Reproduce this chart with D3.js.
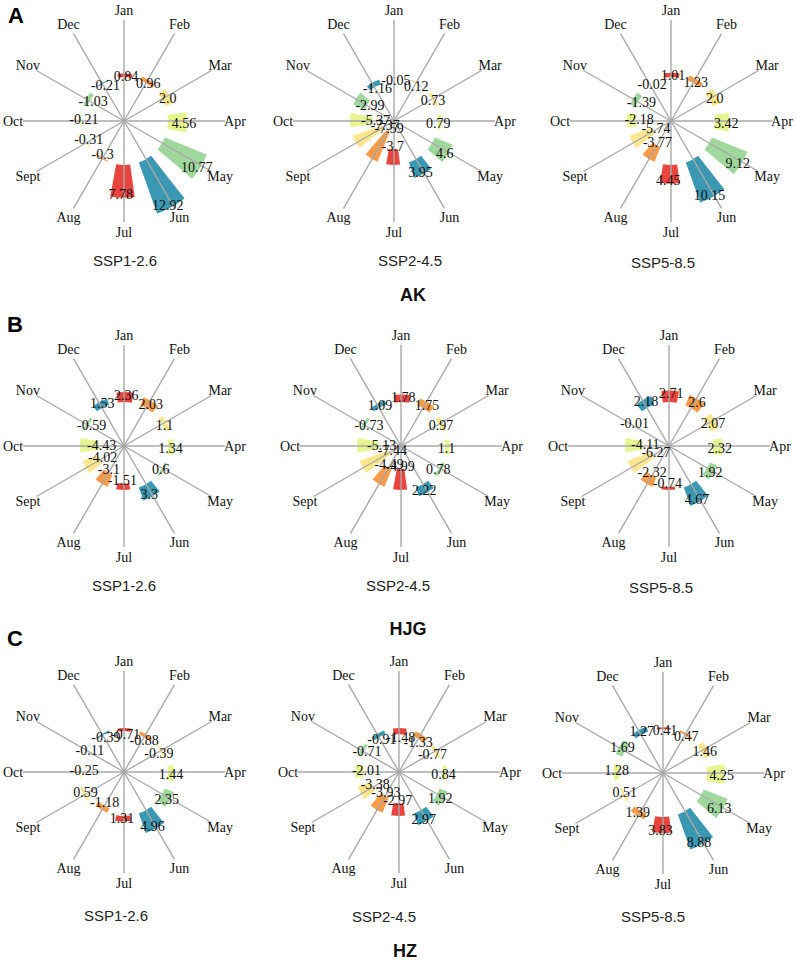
<!DOCTYPE html>
<html>

<head>
  <title>Monthly rose charts</title>
  <script src="https://cdn.jsdelivr.net/npm/d3@7/dist/d3.min.js"></script>
  <style type="text/css">
    body {
      margin: 0;
      background: #fff;
    }

    .spoke {
      stroke: #a9a9a9;
      stroke-width: 1.4;
    }

    .month,
    .value {
      font-family: "Liberation Serif", serif;
      font-size: 14px;
      fill: #111;
      text-anchor: middle;
      dominant-baseline: central;
    }

    .scenario {
      font-family: "Liberation Sans", sans-serif;
      font-size: 15px;
      fill: #222;
      text-anchor: middle;
    }

    .site {
      font-family: "Liberation Sans", sans-serif;
      font-size: 18px;
      font-weight: bold;
      fill: #111;
      text-anchor: middle;
    }

    .letter {
      font-family: "Liberation Sans", sans-serif;
      font-size: 22px;
      font-weight: bold;
      fill: #000;
    }
  </style>
</head>

<body>
  <div id="chartArea"></div>
  <script type="text/javascript">
    let months = ['Jan', 'Feb', 'Mar', 'Apr', 'May', 'Jun', 'Jul', 'Aug', 'Sept', 'Oct', 'Nov', 'Dec'];
    let colors = ['#e8453f', '#f99b48', '#fde78e', '#e6f590', '#9fd79c', '#3b98b2'];

    let akSsp126 = [0.84, 0.96, 2.0, 4.56, 10.77, 12.92, 7.78, -0.3, -0.31, -0.21, -1.03, -0.21];
    let akSsp245 = [-0.05, 0.12, 0.73, 0.79, 4.6, 3.95, -3.7, -7.59, -7.37, -5.37, -2.99, -1.16];
    let akSsp585 = [1.01, 1.23, 2.0, 3.42, 9.12, 10.15, 4.45, -3.77, -5.74, -2.18, -1.39, -0.02];

    let hjgSsp126 = [2.36, 2.03, 1.1, 1.34, 0.6, 3.3, -1.51, -3.1, -4.02, -4.43, -0.59, 1.53];
    let hjgSsp245 = [1.78, 1.75, 0.97, 1.1, 0.78, 2.22, -4.99, -4.49, -7.44, -5.13, -0.73, 1.09];
    let hjgSsp585 = [2.71, 2.6, 2.07, 2.32, 1.92, 4.67, -0.74, -2.32, -6.27, -4.11, -0.01, 2.18];

    let hzSsp126 = [-0.71, -0.88, -0.39, 1.44, 2.35, 4.96, 1.31, -1.18, 0.59, -0.25, -0.11, -0.39];
    let hzSsp245 = [-1.48, -1.33, -0.77, 0.84, 1.92, 2.97, -2.97, -3.93, -3.38, -2.01, -0.71, -0.91];
    let hzSsp585 = [0.41, 0.47, 1.46, 4.25, 6.13, 8.88, 3.83, 1.39, 0.51, 1.28, 1.69, 1.27];

    let w = 796;
    let h = 962;

    let svg = d3.select('#chartArea').append('svg')
      .attr('width', w)
      .attr('height', h)
      .style('display', 'block');

    let angle = d3.scalePoint()
      .domain(months)
      .range([0, 2 * Math.PI * 11 / 12]);

    let r = d3.scaleLinear()
      .domain([0, 10])
      .range([44, 86]);

    let arc = d3.arc();
    let halfWidth = 0.16;
    let barTurn = 0.02;
    let labelTurn = 0.045;
    let spokeLen = 101;
    let monthR = 111;
    let labelShift = 3;

    let polar = (radius, month, turn = 0) => {
      let a = angle(month) + turn;
      return [radius * Math.sin(a), -radius * Math.cos(a)];
    };

    // 2.0 is printed with its decimal in the original
    let fmt = d => Number.isInteger(d) ? d.toFixed(1) : String(d);

    function drawRose(values, name, cx, cy, nameX, nameY) {
      let g = svg.append('g').attr('transform', `translate(${cx},${cy})`);

      g.selectAll('path')
        .data(values)
        .enter()
        .append('path')
        .attr('fill', (d, i) => colors[i % 6])
        .attr('d', (d, i) => arc({
          innerRadius: Math.min(r(0), r(d)),
          outerRadius: Math.max(r(0), r(d)),
          startAngle: angle(months[i]) + barTurn - halfWidth,
          endAngle: angle(months[i]) + barTurn + halfWidth
        }));

      g.selectAll('line')
        .data(months)
        .enter()
        .append('line')
        .attr('class', 'spoke')
        .attr('x1', 0)
        .attr('y1', 0)
        .attr('x2', d => polar(spokeLen, d)[0])
        .attr('y2', d => polar(spokeLen, d)[1]);

      g.selectAll('.month')
        .data(months)
        .enter()
        .append('text')
        .attr('class', 'month')
        .attr('x', d => polar(monthR, d)[0])
        .attr('y', d => polar(monthR, d)[1])
        .text(d => d);

      g.selectAll('.value')
        .data(values)
        .enter()
        .append('text')
        .attr('class', 'value')
        .attr('x', (d, i) => polar(r(d) - labelShift, months[i], labelTurn)[0])
        .attr('y', (d, i) => polar(r(d) - labelShift, months[i], labelTurn)[1])
        .text(fmt);

      svg.append('text')
        .attr('class', 'scenario')
        .attr('x', nameX)
        .attr('y', nameY)
        .text(name);
    }

    drawRose(akSsp126, 'SSP1-2.6', 124, 121, 125, 266);
    drawRose(akSsp245, 'SSP2-4.5', 394, 121, 410, 266);
    drawRose(akSsp585, 'SSP5-8.5', 671, 121, 663, 268);

    drawRose(hjgSsp126, 'SSP1-2.6', 124, 446, 124, 591);
    drawRose(hjgSsp245, 'SSP2-4.5', 401, 446, 398, 591);
    drawRose(hjgSsp585, 'SSP5-8.5', 669, 446, 661, 593);

    drawRose(hzSsp126, 'SSP1-2.6', 124, 772, 116, 921);
    drawRose(hzSsp245, 'SSP2-4.5', 399, 772, 384, 922);
    drawRose(hzSsp585, 'SSP5-8.5', 663, 773, 653, 922);

    let sites = [['AK', 413, 301], ['HJG', 408, 635], ['HZ', 405, 957]];
    let letters = [['A', 8, 23], ['B', 7, 332], ['C', 7, 646]];

    svg.selectAll('.site')
      .data(sites)
      .enter()
      .append('text')
      .attr('class', 'site')
      .attr('x', d => d[1])
      .attr('y', d => d[2])
      .text(d => d[0]);

    svg.selectAll('.letter')
      .data(letters)
      .enter()
      .append('text')
      .attr('class', 'letter')
      .attr('x', d => d[1])
      .attr('y', d => d[2])
      .text(d => d[0]);
  </script>
</body>

</html>
